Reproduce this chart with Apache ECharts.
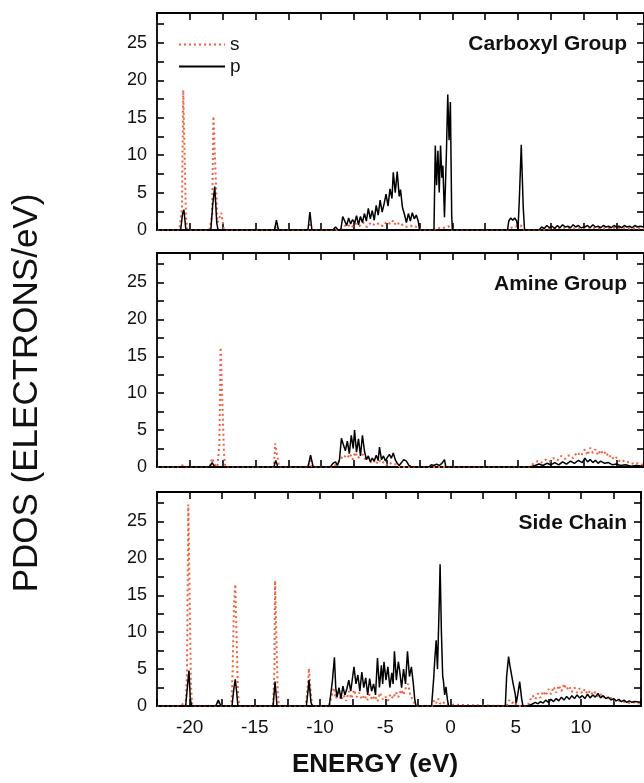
<!DOCTYPE html>
<html><head><meta charset="utf-8">
<script src="https://cdn.jsdelivr.net/npm/echarts@6/dist/echarts.min.js"></script>
<style>html,body{margin:0;padding:0;background:#fff}#c{width:644px;height:783px}</style>
</head><body><div id="c"></div>
<script>
const panelNames = ['Carboxyl Group', 'Amine Group', 'Side Chain'];
const xTickLabels = [-20, -15, -10, -5, 0, 5, 10];
const yTickLabels = [0, 5, 10, 15, 20, 25];
const seriesNames = ['s', 'p'];

// [energy (eV), PDOS] pairs
const carboxylS = [[-22.5,0],[-20.8,0],[-20.6,3],[-20.5,18.7],[-20.4,18.7],[-20.3,2],[-20.2,0],
[-18.5,0],[-18.3,2],[-18.2,15.2],[-18.05,15.2],[-17.9,1],[-17.6,2.3],[-17.4,0],
[-13.6,0],[-13.4,0.5],[-13.2,0],[-11.0,0],[-10.85,1.0],[-10.7,0],
[-8.6,0],[-8.3,0.4],[-8.0,0.8],[-7.7,0.3],[-7.4,0.9],[-7.1,0.5],[-6.8,1.0],[-6.5,0.4],[-6.2,1.0],[-5.9,0.6],[-5.6,0.9],[-5.3,0.5],[-5.0,1.1],[-4.7,0.8],[-4.5,1.3],[-4.3,0.6],[-4.0,1.0],[-3.7,0.5],[-3.4,0.4],[-3.0,0.6],[-2.6,0.3],[-2.4,0],
[-1.4,0],[-1.2,0.3],[-0.8,0.2],[-0.3,0.5],[0,0],
[4.2,0],[4.6,0.4],[5.2,0.6],[5.5,0],
[6.7,0],[7.5,0.2],[8.5,0.3],[9.5,0.2],[10.5,0.3],[11.5,0.2],[12.5,0.3],[13.5,0.2],[14.6,0.2]];
const carboxylP = [[-22.5,0],[-20.7,0],[-20.55,2.2],[-20.45,2.7],[-20.3,0],
[-18.4,0],[-18.25,3.5],[-18.1,5.8],[-17.95,1],[-17.85,0],
[-13.55,0],[-13.4,1.3],[-13.25,0],[-11.0,0],[-10.85,2.4],[-10.7,0],
[-9.1,0],[-8.9,0.4],[-8.7,0],
[-8.5,0],[-8.35,1.8],[-8.2,1.2],[-8.05,0.6],[-7.9,1.6],[-7.75,0.8],[-7.6,1.4],[-7.45,0.9],[-7.3,1.9],[-7.15,0.7],[-7.0,1.8],[-6.85,1.0],[-6.7,2.2],[-6.55,1.2],[-6.4,2.9],[-6.25,1.5],[-6.1,2.6],[-5.95,1.3],[-5.8,3.3],[-5.65,2.0],[-5.5,4.0],[-5.35,2.4],[-5.2,3.5],[-5.05,4.8],[-4.9,3.2],[-4.75,5.5],[-4.6,4.2],[-4.5,7.7],[-4.35,5.0],[-4.2,7.8],[-4.05,4.5],[-3.95,5.4],[-3.8,3.0],[-3.65,2.1],[-3.5,1.0],[-3.35,2.2],[-3.2,1.2],[-3.05,2.3],[-2.9,1.5],[-2.75,2.0],[-2.6,1.2],[-2.5,0],
[-1.4,0],[-1.3,11.3],[-1.2,6],[-1.1,10.6],[-1.0,5],[-0.9,11.3],[-0.8,7],[-0.72,8.6],[-0.6,1.7],[-0.45,10.5],[-0.35,18.1],[-0.25,12],[-0.15,17.1],[-0.05,2],[0.0,0],
[4.2,0],[4.3,1.2],[4.45,1.6],[4.6,1.3],[4.75,1.6],[4.9,1.2],[5.0,0],[5.1,4],[5.25,11.4],[5.4,3],[5.5,0],
[6.6,0],[6.8,0.4],[7.0,0.2],[7.2,0.6],[7.4,0.3],[7.6,0.5],[7.8,0.2],[8.0,0.6],[8.2,0.3],[8.4,0.7],[8.6,0.4],[8.8,0.5],[9.0,0.3],[9.2,0.7],[9.4,0.4],[9.6,0.6],[9.8,0.3],[10.1,0.4],[10.3,0.6],[10.5,0.3],[10.7,0.7],[10.9,0.4],[11.1,0.5],[11.3,0.3],[11.5,0.6],[11.7,0.4],[11.9,0.5],[12.1,0.3],[12.3,0.6],[12.5,0.4],[12.7,0.5],[12.9,0.3],[13.1,0.6],[13.3,0.4],[13.5,0.5],[13.7,0.3],[13.9,0.6],[14.1,0.4],[14.3,0.5],[14.6,0.4]];

const amineS = [[-22.5,0],[-20.7,0],[-20.5,0.3],[-20.3,0],
[-18.5,0],[-18.3,1.2],[-18.1,0.3],[-17.9,0],[-17.75,3],[-17.65,16.2],[-17.5,16.2],[-17.4,2],[-17.3,0],
[-16.6,0],[-16.45,0.2],[-16.3,0],[-13.6,0],[-13.5,3.2],[-13.35,3.2],[-13.2,0],
[-11.0,0],[-10.85,0.9],[-10.7,0],
[-9.1,0],[-8.9,0.3],[-8.6,0.8],[-8.3,1.6],[-8.0,1.2],[-7.8,1.8],[-7.6,1.0],[-7.4,2.0],[-7.2,1.2],[-7.0,1.5],[-6.8,1.7],[-6.6,0.9],[-6.4,1.2],[-6.2,0.6],[-6.0,0.9],[-5.8,0.4],[-5.6,1.0],[-5.4,0.5],[-5.2,0.7],[-5.0,0.3],[-4.8,0.6],[-4.5,0.3],[-4.2,0.4],[-4.0,0],
[5.9,0],[6.2,0.5],[6.5,0.8],[6.8,0.6],[7.1,1.0],[7.4,0.7],[7.7,1.2],[8.0,0.9],[8.3,1.5],[8.6,1.1],[8.9,1.6],[9.2,1.2],[9.5,2.0],[9.8,1.5],[10.1,2.4],[10.3,1.6],[10.5,2.6],[10.7,1.9],[10.9,2.4],[11.1,1.6],[11.3,2.3],[11.5,1.7],[11.7,2.1],[11.9,1.3],[12.1,1.6],[12.3,1.0],[12.5,1.3],[12.7,0.8],[12.9,1.0],[13.2,0.6],[13.5,0.7],[13.8,0.4],[14.1,0.5],[14.6,0.3]];
const amineP = [[-22.5,0],[-18.5,0],[-18.3,0.6],[-18.1,0],
[-13.6,0],[-13.45,0.9],[-13.3,0],[-11.0,0],[-10.8,1.6],[-10.6,0],
[-9.3,0],[-9.1,0.5],[-8.9,0.7],[-8.75,0.2],[-8.6,1.0],[-8.45,3.9],[-8.3,3.0],[-8.15,2.2],[-8.0,3.5],[-7.85,1.8],[-7.7,4.3],[-7.55,2.5],[-7.45,5.0],[-7.3,2.0],[-7.15,3.8],[-7.0,1.5],[-6.85,4.3],[-6.7,2.2],[-6.55,1.0],[-6.4,1.5],[-6.25,0.7],[-6.1,1.2],[-5.95,0.8],[-5.8,1.6],[-5.65,0.9],[-5.55,2.7],[-5.4,1.0],[-5.25,1.5],[-5.1,0.8],[-4.95,1.3],[-4.8,1.7],[-4.65,1.2],[-4.5,1.9],[-4.35,1.0],[-4.2,0.5],[-4.05,0.2],[-3.9,0.2],[-3.7,1.0],[-3.5,0.8],[-3.3,0.2],[-3.1,0],
[-1.8,0],[-1.6,0.3],[-1.4,0.2],[-1.2,0.4],[-1.0,0.2],[-0.8,0.5],[-0.6,1.0],[-0.5,0],
[5.9,0],[6.3,0.2],[6.6,0.4],[6.9,0.2],[7.2,0.5],[7.5,0.3],[7.8,0.6],[8.1,0.3],[8.4,0.7],[8.7,0.4],[9.0,0.8],[9.3,0.5],[9.6,0.9],[9.9,0.6],[10.1,1.2],[10.3,0.7],[10.5,1.0],[10.7,0.6],[10.9,0.9],[11.1,0.5],[11.3,0.8],[11.6,0.5],[11.9,0.6],[12.2,0.3],[12.5,0.4],[12.8,0.2],[13.2,0.3],[13.6,0.1],[14.0,0.2],[14.6,0.1]];

const sideS = [[-22.5,0],[-20.7,0],[-20.5,0.3],[-20.3,0],[-20.2,5],[-20.1,27.3],[-20.0,27.3],[-19.9,3],[-19.8,0],
[-18.0,0],[-17.8,0.5],[-17.6,0],
[-16.8,0],[-16.7,5],[-16.6,13.7],[-16.5,16.5],[-16.4,16.5],[-16.3,2],[-16.2,0],
[-13.6,0],[-13.5,5],[-13.45,17.0],[-13.35,17.0],[-13.25,2],[-13.15,0],
[-11.1,0],[-10.95,2.5],[-10.85,5.1],[-10.75,2.5],[-10.6,0],
[-9.3,0],[-9.1,1.5],[-8.95,2.5],[-8.8,1.0],[-8.6,1.8],[-8.4,0.8],[-8.2,1.5],[-8.0,0.7],[-7.8,2.0],[-7.6,1.0],[-7.4,2.2],[-7.2,1.2],[-7.0,1.8],[-6.8,0.9],[-6.6,1.5],[-6.4,0.7],[-6.2,1.6],[-6.0,0.8],[-5.8,1.4],[-5.6,0.6],[-5.4,1.8],[-5.2,0.9],[-5.0,1.3],[-4.8,0.7],[-4.6,1.6],[-4.4,1.0],[-4.2,1.9],[-4.0,1.2],[-3.8,2.2],[-3.6,1.5],[-3.4,2.6],[-3.25,3.0],[-3.1,1.6],[-2.95,1.0],[-2.8,0.5],[-2.6,0],
[-1.4,0],[-1.25,0.8],[-1.1,0.4],[-0.95,1.0],[-0.8,0.3],[-0.6,0.6],[-0.4,0.2],[-0.3,0],
[4.3,0],[4.5,0.8],[4.7,0.4],[4.9,0.6],[5.1,0],
[5.9,0],[6.1,0.8],[6.3,1.4],[6.5,0.9],[6.7,1.7],[6.9,1.1],[7.1,2.0],[7.3,1.4],[7.5,2.3],[7.7,1.6],[7.9,2.6],[8.1,1.8],[8.3,2.8],[8.5,2.0],[8.7,3.0],[8.9,2.2],[9.1,2.7],[9.3,1.9],[9.5,2.5],[9.7,1.8],[9.9,2.4],[10.1,1.7],[10.3,2.3],[10.5,1.6],[10.7,2.1],[10.9,1.5],[11.1,1.9],[11.3,1.3],[11.5,1.6],[11.7,1.1],[11.9,1.4],[12.1,0.9],[12.3,1.1],[12.5,0.7],[12.8,0.8],[13.1,0.5],[13.4,0.6],[13.7,0.4],[14.0,0.5],[14.6,0.3]];
const sideP = [[-22.5,0],[-20.3,0],[-20.15,3],[-20.05,4.8],[-19.95,1],[-19.85,0],
[-18.0,0],[-17.8,0.8],[-17.6,0],
[-16.75,0],[-16.6,2.5],[-16.5,3.6],[-16.4,2],[-16.3,0],
[-13.6,0],[-13.45,3.3],[-13.3,0],
[-11.05,0],[-10.9,2.5],[-10.85,3.5],[-10.7,0.5],[-10.6,0],
[-9.3,0],[-9.15,2.0],[-9.05,3.5],[-8.9,6.6],[-8.8,2.5],[-8.7,1.2],[-8.55,2.5],[-8.4,1.0],[-8.25,2.7],[-8.1,1.5],[-7.95,2.3],[-7.8,3.5],[-7.65,2.0],[-7.5,4.0],[-7.4,5.3],[-7.25,3.0],[-7.1,4.2],[-6.95,2.0],[-6.8,4.6],[-6.65,2.5],[-6.5,3.8],[-6.35,1.5],[-6.2,3.7],[-6.05,2.0],[-5.9,3.0],[-5.75,1.5],[-5.6,6.5],[-5.45,2.5],[-5.3,5.5],[-5.2,3.0],[-5.1,6.0],[-4.95,3.5],[-4.8,5.3],[-4.65,2.5],[-4.5,4.5],[-4.4,3.0],[-4.3,7.4],[-4.15,3.5],[-4.0,6.0],[-3.9,4.8],[-3.75,2.5],[-3.6,5.0],[-3.45,3.0],[-3.3,7.4],[-3.15,4.0],[-3.0,5.3],[-2.85,3.0],[-2.75,1.0],[-2.65,0],
[-1.45,0],[-1.3,3.5],[-1.2,6.5],[-1.1,8.9],[-1.0,5],[-0.85,15],[-0.8,19.2],[-0.7,10],[-0.6,4],[-0.55,3.5],[-0.45,1.5],[-0.35,2.6],[-0.25,1.0],[-0.15,0],
[4.2,0],[4.3,4.0],[4.45,6.7],[4.55,5.5],[4.7,5.3],[4.8,3.0],[4.95,1.7],[5.05,0.5],[5.15,1.5],[5.3,3.3],[5.45,1.0],[5.55,0],
[5.9,0],[6.2,0.2],[6.5,0.5],[6.7,0.3],[6.9,0.6],[7.1,0.4],[7.3,0.8],[7.5,0.5],[7.7,0.9],[7.9,0.6],[8.1,1.0],[8.3,0.7],[8.5,1.2],[8.7,0.8],[8.9,1.3],[9.1,0.9],[9.3,1.4],[9.5,1.0],[9.7,1.5],[9.9,1.1],[10.1,1.4],[10.3,1.0],[10.5,1.6],[10.7,1.1],[10.9,1.5],[11.1,1.2],[11.3,1.7],[11.5,1.1],[11.7,1.4],[11.9,1.0],[12.1,1.2],[12.3,0.8],[12.5,1.0],[12.7,0.7],[12.9,0.9],[13.1,0.6],[13.3,0.8],[13.5,0.5],[13.7,0.7],[13.9,0.5],[14.1,0.6],[14.6,0.5]];

const panelS = [carboxylS, amineS, sideS];
const panelP = [carboxylP, amineP, sideP];

const FONT = 'Liberation Sans, Arial, sans-serif';
const RED = '#f2603f';
const panels = [{top: 13, height: 217}, {top: 253, height: 214}, {top: 492, height: 214}];
const X_MIN = -22.5, X_MAX = 14.6, Y_MIN = 0, Y_MAX = 29;

const grid = [], xAxis = [], yAxis = [], series = [], graphic = [];
const axisLine = {onZero: false, lineStyle: {color: '#000', width: 1.8}};
const axisTick = {inside: true, length: 7, lineStyle: {color: '#000', width: 1.6}};

panels.forEach((p, i) => {
  grid.push({left: 157, right: -4, top: p.top, height: p.height, containLabel: false});
  xAxis.push({gridIndex: i, type: 'value', position: 'bottom', min: X_MIN, max: X_MAX, interval: 2.5,
    axisLine, axisTick, splitLine: {show: false},
    axisLabel: {show: i === 2, margin: 12, fontSize: 19, color: '#111', fontFamily: FONT,
      formatter: v => xTickLabels.includes(v) ? String(v) : ''}});
  xAxis.push({gridIndex: i, type: 'value', position: 'top', min: X_MIN, max: X_MAX, interval: 2.5,
    axisLine, axisTick, splitLine: {show: false}, axisLabel: {show: false}});
  yAxis.push({gridIndex: i, type: 'value', position: 'left', min: Y_MIN, max: Y_MAX, interval: 2.5,
    axisLine, axisTick, splitLine: {show: false},
    axisLabel: {margin: 10, fontSize: 18, color: '#111', fontFamily: FONT,
      formatter: v => yTickLabels.includes(v) ? String(v) : ''}});
  yAxis.push({gridIndex: i, type: 'value', position: 'right', min: Y_MIN, max: Y_MAX, interval: 2.5,
    axisLine, axisTick, splitLine: {show: false}, axisLabel: {show: false}});
  series.push({type: 'line', name: seriesNames[0], xAxisIndex: 2 * i, yAxisIndex: 2 * i,
    data: panelS[i], symbol: 'none', z: 2,
    lineStyle: {color: RED, width: 2, type: [2, 3]}, itemStyle: {color: RED}});
  series.push({type: 'line', name: seriesNames[1], xAxisIndex: 2 * i, yAxisIndex: 2 * i,
    data: panelP[i], symbol: 'none', z: 3,
    lineStyle: {color: '#000', width: 1.5}, itemStyle: {color: '#000'}});
  graphic.push({type: 'text', right: 17, top: p.top + 21,
    style: {text: panelNames[i], font: 'bold 21px ' + FONT, fill: '#111'}});
});

graphic.push({type: 'text', x: 375, y: 765,
  style: {text: 'ENERGY (eV)', font: 'bold 26px ' + FONT, fill: '#111', align: 'center', verticalAlign: 'middle'}});
graphic.push({type: 'text', x: 27, y: 393, rotation: Math.PI / 2,
  style: {text: 'PDOS (ELECTRONS/eV)', font: '35px ' + FONT, fill: '#111', align: 'center', verticalAlign: 'middle'}});

const chart = echarts.init(document.getElementById('c'));
chart.setOption({
  animation: false,
  backgroundColor: '#fff',
  grid, xAxis, yAxis, series, graphic,
  legend: {data: seriesNames, orient: 'vertical', left: 173, top: 30, itemWidth: 46, itemHeight: 12, itemGap: 3,
    itemStyle: {color: 'rgba(0,0,0,0)', borderColor: 'rgba(0,0,0,0)', borderWidth: 0},
    textStyle: {fontSize: 19, color: '#111', fontFamily: FONT}}
});
</script></body></html>
